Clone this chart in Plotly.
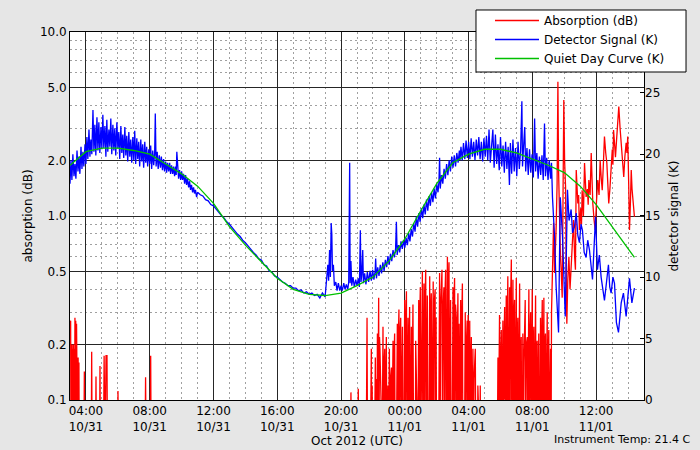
import plotly.graph_objects as go
import pandas as pd

# ---------------- data (times in hours since 2012-10-31 00:00 UTC) ----------------
absorption_hours = [
    3.00, 3.02, 3.04, 3.06, 3.08, 3.10, 3.12, 3.14, 3.16, 3.18, 3.21, 3.23, 3.26, 3.28,
    3.31, 3.33, 3.36, 3.38, 3.41, 3.43, 3.46, 3.48, 3.51, 3.53, 3.56, 3.58,
    3.87, 3.90, 3.93, 4.33, 4.36, 4.39, 4.60, 4.63, 4.66, 4.85, 4.88, 4.91,
    5.10, 5.14, 5.20, 5.26, 5.32, 5.35, 5.98, 6.01, 6.04, 7.70, 7.74, 7.78, 8.03, 8.06, 8.09,
    20.60, 20.62, 20.66, 21.05, 21.08, 21.12,
    21.58, 21.63, 21.66, 21.84, 21.86, 21.88, 21.90, 21.93, 21.95, 21.98,
    22.10, 22.15, 22.18, 22.22, 22.25, 22.28, 22.30, 22.33, 22.36, 22.38, 22.41, 22.44, 22.47,
    22.58, 22.63, 22.66, 22.69, 22.74, 22.77, 22.80, 22.84, 22.87, 22.94, 22.97, 23.03, 23.06,
    23.10, 23.16, 23.19, 23.26, 23.29, 23.32, 23.36, 23.39,
    23.47, 23.53, 23.56, 23.58, 23.63, 23.66, 23.69, 23.74, 23.77, 23.80, 23.85, 23.88,
    23.94, 23.99, 24.02, 24.05, 24.10, 24.13, 24.16, 24.20, 24.23, 24.26, 24.30, 24.33,
    24.36, 24.41, 24.44, 24.47, 24.51, 24.55, 24.66, 24.68, 24.71,
    24.82, 24.87, 24.90, 24.93, 24.97, 25.00, 25.04, 25.10, 25.13, 25.16, 25.20, 25.23,
    25.26, 25.31, 25.34, 25.37, 25.41, 25.45,
    25.52, 25.56, 25.59, 25.62, 25.66, 25.69, 25.73, 25.78, 25.81, 25.84, 25.90, 25.93, 25.96, 25.99,
    26.12, 26.18, 26.21, 26.25, 26.33, 26.36, 26.39, 26.45, 26.48, 26.51, 26.56, 26.59,
    26.62, 26.67, 26.70, 26.73, 26.77, 26.80, 26.83, 26.87, 26.90,
    26.97, 27.02, 27.05, 27.08, 27.12, 27.15, 27.18, 27.23, 27.26, 27.29, 27.33, 27.36,
    27.40, 27.44, 27.50, 27.53, 27.56, 27.61, 27.64,
    27.74, 27.79, 27.82, 27.86, 27.91, 27.94, 27.97, 28.01, 28.04, 28.07, 28.10, 28.13,
    28.17, 28.20, 28.23, 28.27, 28.30, 28.34, 28.42, 28.45,
    28.56, 28.58, 28.60, 28.71, 28.73, 28.75,
    29.80, 29.84, 29.87, 29.90, 29.94, 29.97, 30.00, 30.05, 30.08, 30.11, 30.15, 30.18,
    30.21, 30.26, 30.29, 30.32, 30.36, 30.39, 30.42, 30.46, 30.49, 30.52, 30.57, 30.60,
    30.63, 30.68, 30.71, 30.74, 30.78, 30.81, 30.84, 30.88, 30.91, 30.94, 30.99, 31.02,
    31.05, 31.09, 31.12, 31.15, 31.20, 31.23, 31.26, 31.30, 31.33,
    31.38, 31.40, 31.43, 31.47, 31.55, 31.58, 31.62, 31.68, 31.71, 31.74, 31.78, 31.81,
    31.84, 31.89, 31.92, 31.95, 31.99, 32.02, 32.05, 32.09, 32.12, 32.15, 32.20, 32.23,
    32.26, 32.30, 32.33, 32.36, 32.40, 32.44,
    32.48, 32.51, 32.54, 32.57, 32.62, 32.65, 32.68, 32.72, 32.75, 32.78, 32.82, 32.85,
    32.88, 32.93, 32.96, 32.99, 33.03, 33.06, 33.09, 33.14, 33.17, 33.20, 33.24,
    33.29, 33.33, 33.39, 33.44, 33.49, 33.55, 33.60, 33.64, 33.70, 33.76, 33.81, 33.87,
    33.92, 33.97, 34.02, 34.08, 34.12, 34.16, 34.22, 34.29, 34.36, 34.43, 34.50, 34.58,
    34.65, 34.70, 34.75, 34.80, 34.85, 34.90, 34.95, 35.03, 35.08, 35.12, 35.20, 35.27,
    35.32, 35.37, 35.45, 35.50, 35.54, 35.62, 35.69, 35.74, 35.79, 35.87, 35.94, 36.02,
    36.10, 36.18, 36.25, 36.32, 36.38, 36.45, 36.52, 36.60, 36.67, 36.73, 36.79, 36.86,
    36.94, 37.01, 37.05, 37.09, 37.15, 37.21, 37.28, 37.35, 37.42, 37.50, 37.57, 37.65,
    37.73, 37.80, 37.88, 37.93, 37.98, 38.04, 38.09, 38.15, 38.20, 38.25, 38.30, 38.35, 38.40,
]
absorption_db = [
    0.26, 0.05, 0.27, 0.05, 0.19, 0.05, 0.20, 0.05, 0.19, 0.05, 0.20, 0.05, 0.19, 0.05,
    0.28, 0.05, 0.27, 0.05, 0.26, 0.05, 0.17, 0.05, 0.17, 0.05, 0.16, 0.05,
    0.05, 0.143, 0.05, 0.05, 0.183, 0.05, 0.05, 0.134, 0.05, 0.05, 0.153, 0.05,
    0.05, 0.174, 0.05, 0.174, 0.174, 0.05, 0.05, 0.112, 0.05, 0.05, 0.133, 0.05, 0.05, 0.174, 0.05,
    0.05, 0.11, 0.05, 0.05, 0.115, 0.05,
    0.05, 0.28, 0.05, 0.05, 0.15, 0.05, 0.19, 0.05, 0.12, 0.05,
    0.05, 0.17, 0.05, 0.13, 0.05, 0.23, 0.05, 0.15, 0.36, 0.05, 0.22, 0.19, 0.05,
    0.05, 0.25, 0.05, 0.15, 0.19, 0.05, 0.12, 0.22, 0.05, 0.12, 0.05, 0.19, 0.05,
    0.13, 0.15, 0.05, 0.21, 0.05, 0.16, 0.23, 0.05,
    0.05, 0.26, 0.05, 0.19, 0.31, 0.05, 0.22, 0.28, 0.05, 0.16, 0.25, 0.05,
    0.05, 0.35, 0.05, 0.24, 0.39, 0.05, 0.22, 0.28, 0.05, 0.18, 0.32, 0.05,
    0.20, 0.25, 0.05, 0.15, 0.33, 0.05, 0.05, 0.21, 0.05,
    0.05, 0.35, 0.05, 0.25, 0.41, 0.05, 0.28, 0.50, 0.05, 0.30, 0.43, 0.05,
    0.31, 0.51, 0.05, 0.26, 0.37, 0.05,
    0.05, 0.47, 0.05, 0.30, 0.38, 0.05, 0.25, 0.44, 0.05, 0.33, 0.40, 0.05, 0.28, 0.05,
    0.05, 0.49, 0.05, 0.33, 0.51, 0.05, 0.30, 0.41, 0.05, 0.35, 0.51, 0.05,
    0.38, 0.60, 0.05, 0.42, 0.56, 0.05, 0.30, 0.35, 0.05,
    0.05, 0.41, 0.05, 0.32, 0.46, 0.05, 0.33, 0.28, 0.05, 0.20, 0.38, 0.05,
    0.26, 0.05, 0.35, 0.05, 0.25, 0.43, 0.05,
    0.05, 0.30, 0.05, 0.20, 0.27, 0.05, 0.29, 0.18, 0.05, 0.27, 0.05, 0.15,
    0.22, 0.05, 0.12, 0.19, 0.05, 0.13, 0.19, 0.05,
    0.05, 0.12, 0.05, 0.05, 0.12, 0.05,
    0.05, 0.17, 0.05, 0.12, 0.29, 0.05, 0.15, 0.24, 0.05, 0.12, 0.27, 0.05,
    0.18, 0.32, 0.05, 0.22, 0.37, 0.05, 0.25, 0.47, 0.05, 0.30, 0.41, 0.05,
    0.33, 0.58, 0.05, 0.35, 0.45, 0.05, 0.28, 0.35, 0.05, 0.25, 0.46, 0.05,
    0.22, 0.28, 0.05, 0.16, 0.43, 0.05, 0.18, 0.22, 0.05,
    0.05, 0.23, 0.05, 0.16, 0.35, 0.05, 0.20, 0.22, 0.05, 0.14, 0.40, 0.05,
    0.21, 0.30, 0.05, 0.18, 0.40, 0.05, 0.20, 0.25, 0.05, 0.17, 0.37, 0.05,
    0.19, 0.21, 0.05, 0.14, 0.23, 0.05,
    0.05, 0.28, 0.05, 0.19, 0.35, 0.05, 0.25, 0.36, 0.05, 0.20, 0.23, 0.05,
    0.15, 0.30, 0.05, 0.16, 0.24, 0.05, 0.12, 0.19, 0.05, 0.30, 0.49,
    0.70, 0.92, 0.49, 0.60, 0.87, 1.50, 5.37, 1.80, 0.84, 0.60, 0.50, 0.36,
    1.20, 4.27, 2.00, 1.44, 0.50, 0.26, 0.45, 0.60, 0.40, 0.51, 0.70, 0.95,
    0.60, 0.51, 1.78, 1.40, 1.17, 1.30, 0.84, 1.10, 0.90, 1.38, 1.00, 1.94,
    1.50, 1.27, 1.40, 1.15, 1.57, 1.30, 2.20, 1.60, 1.17, 0.95, 0.84, 1.20,
    1.57, 1.30, 2.00, 1.60, 1.38, 1.90, 2.70, 2.20, 1.94, 1.50, 1.17, 1.40,
    1.78, 2.30, 1.90, 2.93, 2.50, 2.09, 2.60, 3.20, 3.93, 3.00, 2.50, 2.00,
    1.63, 2.10, 2.50, 2.20, 2.70, 1.50, 0.84, 1.20, 1.78, 1.40, 1.27, 1.10, 0.99,
]

detector_hours = [
    3.00, 3.06, 3.12, 3.18, 3.25, 3.31, 3.37, 3.44, 3.50, 3.56, 3.62, 3.69, 3.75, 3.81, 3.87, 3.94,
    4.00, 4.06, 4.12, 4.19, 4.25, 4.31, 4.37, 4.44, 4.50, 4.56, 4.62, 4.69, 4.75, 4.81, 4.87, 4.94,
    5.00, 5.06, 5.12, 5.19, 5.25, 5.31, 5.37, 5.44, 5.50, 5.56, 5.62, 5.69, 5.75, 5.81, 5.87, 5.94,
    6.00, 6.06, 6.12, 6.19, 6.25, 6.31, 6.37, 6.44, 6.50, 6.56, 6.62, 6.69, 6.75, 6.81, 6.87, 6.94,
    7.00, 7.06, 7.12, 7.19, 7.25, 7.31, 7.37, 7.44, 7.50, 7.56, 7.62, 7.69, 7.75, 7.81, 7.87, 7.94,
    8.00, 8.06, 8.12, 8.19, 8.25, 8.31, 8.35, 8.40, 8.47, 8.53, 8.60, 8.67, 8.73, 8.80, 8.87, 8.93,
    9.00, 9.06, 9.12, 9.19, 9.25, 9.31, 9.37, 9.44, 9.50, 9.56, 9.62, 9.66, 9.70, 9.75, 9.81, 9.87, 9.94,
    10.00, 10.06, 10.12, 10.19, 10.25, 10.31, 10.37, 10.44, 10.50, 10.56, 10.62, 10.69, 10.75, 10.81, 10.87, 10.94,
    11.00, 11.17, 11.33, 11.50, 11.67, 11.83, 12.00, 12.17, 12.33, 12.50, 12.67, 12.83,
    13.00, 13.17, 13.33, 13.50, 13.67, 13.83, 14.00, 14.17, 14.33, 14.50, 14.67, 14.83,
    15.00, 15.17, 15.33, 15.50, 15.67, 15.83, 16.00, 16.17, 16.33, 16.50, 16.67, 16.83,
    17.00, 17.17, 17.33, 17.50, 17.67, 17.83, 18.00, 18.17, 18.33, 18.50, 18.67, 18.83,
    19.00, 19.08, 19.17, 19.22, 19.28, 19.33, 19.38, 19.42, 19.46, 19.52, 19.58, 19.67,
    19.75, 19.83, 19.92, 20.00, 20.08, 20.17, 20.25, 20.33, 20.42, 20.48, 20.54, 20.57,
    20.62, 20.67, 20.75, 20.83, 20.92, 21.00, 21.08, 21.15, 21.21, 21.25, 21.30, 21.36,
    21.40, 21.48, 21.56, 21.65, 21.73, 21.82, 21.90, 21.98, 22.06, 22.14, 22.17, 22.22,
    22.30, 22.38, 22.46, 22.54, 22.62, 22.70, 22.78, 22.86, 22.94, 23.02, 23.10, 23.18,
    23.26, 23.34, 23.42, 23.47, 23.52, 23.60, 23.68, 23.76, 23.84, 23.92,
    24.00, 24.08, 24.16, 24.24, 24.32, 24.40, 24.48, 24.56, 24.64, 24.72, 24.80, 24.88,
    24.96, 25.04, 25.12, 25.20, 25.28, 25.36, 25.44, 25.52, 25.60, 25.68, 25.76, 25.84,
    25.92, 26.00, 26.08, 26.14, 26.18, 26.22, 26.30, 26.38, 26.46, 26.54, 26.62, 26.70,
    26.78, 26.86, 26.94, 27.02, 27.10, 27.18, 27.26, 27.34, 27.42, 27.46, 27.52, 27.60,
    27.68, 27.76, 27.84, 27.92, 28.00, 28.08, 28.16, 28.24, 28.32, 28.40, 28.48, 28.56,
    28.64, 28.72, 28.80, 28.88, 28.96, 29.04, 29.12, 29.20, 29.28, 29.36, 29.44, 29.52,
    29.60, 29.68, 29.76, 29.84, 29.92, 30.00, 30.08, 30.16, 30.24, 30.32, 30.40, 30.48,
    30.56, 30.62, 30.70, 30.78, 30.86, 30.94, 31.02, 31.10, 31.18, 31.26, 31.34, 31.38,
    31.46, 31.52, 31.58, 31.66, 31.74, 31.82, 31.90, 31.98, 32.06, 32.14, 32.20, 32.28,
    32.36, 32.44, 32.52, 32.60, 32.68, 32.76, 32.82, 32.90, 32.98, 33.06, 33.14, 33.20,
    33.26, 33.39, 33.49, 33.64, 33.75, 33.89, 34.06, 34.20, 34.30, 34.43, 34.52, 34.64,
    34.75, 34.85, 34.95, 35.05, 35.14, 35.25, 35.37, 35.47, 35.58, 35.68, 35.77, 35.96,
    36.08, 36.20, 36.31, 36.42, 36.52, 36.65, 36.77, 36.85, 36.94, 37.05, 37.15, 37.27,
    37.40, 37.57, 37.71, 37.88, 37.98, 38.09, 38.24, 38.40,
]
detector_k = [
    17.6, 19.5, 17.9, 20.0, 18.2, 19.2, 18.0, 20.3, 18.6, 19.8, 18.4, 20.6, 18.8, 20.2, 19.0, 20.8,
    19.2, 21.4, 19.6, 22.0, 19.8, 21.2, 20.0, 23.6, 20.2, 22.4, 19.9, 23.0, 20.3, 22.6, 20.1, 22.2,
    20.4, 23.2, 20.5, 22.3, 19.8, 22.8, 20.2, 22.0, 20.6, 22.9, 20.0, 22.4, 20.3, 22.1, 19.9, 22.6,
    20.5, 21.8, 19.6, 22.3, 20.1, 21.6, 19.7, 22.2, 19.9, 21.5, 19.4, 21.8, 19.8, 21.2, 19.3, 21.4,
    19.5, 21.9, 19.2, 21.3, 19.6, 21.0, 19.0, 21.2, 19.4, 20.8, 18.9, 21.0, 19.3, 20.6, 19.0, 20.4,
    19.2, 20.7, 18.8, 20.3, 19.1, 20.1, 23.3, 19.0, 20.2, 18.8, 19.9, 18.9, 19.8, 18.7, 19.6, 18.6,
    19.4, 18.5, 19.3, 18.6, 19.3, 18.4, 19.1, 18.4, 19.0, 18.2, 19.0, 18.3, 20.2, 18.5, 18.0, 18.7, 17.9,
    18.6, 17.9, 18.4, 17.6, 18.3, 17.5, 18.0, 17.3, 17.8, 17.1, 17.5, 16.9, 17.3, 16.8, 17.1, 16.5,
    16.9, 16.7, 16.6, 16.3, 16.2, 15.9, 15.8, 15.5, 15.3, 15.0, 14.8, 14.5,
    14.3, 14.0, 13.8, 13.5, 13.3, 13.0, 12.8, 12.5, 12.3, 12.0, 11.8, 11.5,
    11.4, 11.0, 10.9, 10.5, 10.4, 10.1, 10.0, 9.8, 9.6, 9.5, 9.3, 9.3,
    9.1, 9.1, 8.9, 8.95, 8.7, 8.8, 8.6, 8.7, 8.5, 8.6, 8.3, 8.7,
    8.4, 9.6, 11.0, 9.7, 12.2, 10.0, 14.4, 13.5, 10.5, 11.0, 9.3, 9.6,
    8.9, 9.5, 8.9, 9.3, 8.9, 9.5, 9.0, 9.4, 9.0, 9.6, 19.3, 9.5,
    11.3, 9.3, 10.0, 9.2, 9.8, 9.3, 9.9, 9.2, 13.8, 9.6, 10.2, 12.2,
    9.5, 10.3, 9.4, 10.4, 9.6, 10.5, 9.7, 10.6, 9.8, 10.5, 11.5, 9.9,
    10.8, 10.1, 11.0, 10.3, 11.2, 10.5, 11.4, 10.8, 11.7, 11.0, 11.9, 11.3,
    12.2, 11.6, 12.3, 14.5, 11.8, 12.6, 12.0, 12.9, 12.3, 13.0,
    12.4, 13.2, 12.6, 13.6, 12.9, 13.9, 13.3, 14.4, 13.7, 14.9, 14.1, 15.2,
    14.5, 15.6, 14.8, 15.9, 15.1, 16.3, 15.4, 16.6, 15.8, 16.9, 16.1, 17.2,
    16.4, 17.6, 16.9, 17.8, 19.7, 17.2, 18.3, 17.6, 18.8, 18.0, 19.2, 18.3,
    19.5, 18.6, 19.8, 18.9, 19.9, 19.0, 20.1, 19.3, 20.3, 19.5, 20.6, 19.5,
    20.9, 19.6, 21.1, 19.7, 21.0, 19.6, 21.3, 19.8, 21.0, 19.5, 21.2, 19.9,
    21.4, 19.6, 21.0, 19.4, 21.3, 19.8, 21.5, 19.5, 22.0, 19.3, 21.2, 22.0,
    18.9, 21.6, 19.2, 20.8, 18.7, 21.4, 19.0, 20.7, 18.5, 21.0, 18.8, 20.6,
    17.5, 20.9, 18.4, 21.2, 18.6, 20.5, 18.2, 21.0, 18.8, 20.3, 24.3, 19.0,
    20.9, 22.2, 18.6, 20.5, 18.3, 20.4, 18.5, 20.0, 18.1, 22.9, 18.6, 20.1,
    18.0, 19.8, 18.3, 19.9, 17.9, 22.5, 18.2, 19.7, 17.9, 19.5, 18.0, 19.3,
    16.5, 13.3, 9.2, 5.5, 16.5, 13.3, 6.8, 17.1, 14.6, 15.5, 13.6, 14.1,
    15.2, 13.4, 12.8, 14.3, 13.8, 12.0, 11.6, 13.0, 12.2, 10.8, 9.8, 14.9,
    10.6, 11.8, 10.0, 9.0, 8.1, 9.6, 11.0, 9.2, 8.7, 10.0, 9.5, 6.3,
    5.5, 7.9, 8.7, 6.8, 8.5, 9.9, 7.9, 9.1,
]

quiet_hours = [3, 4, 5, 6, 7, 8, 9, 10, 11, 12, 13, 14, 15, 16, 17, 18, 19, 20,
               21, 22, 23, 24, 25, 26, 27, 28, 29, 30, 31, 32, 33, 34, 35, 36, 37, 38, 38.4]
quiet_k = [19.1, 20.2, 20.5, 20.5, 20.3, 20.0, 19.2, 18.4, 17.4, 16.0, 14.1, 12.6, 11.25,
           9.9, 9.0, 8.6, 8.5, 8.7, 9.3, 10.0, 11.3, 13.1, 15.4, 17.6, 19.3, 20.0, 20.4,
           20.4, 20.1, 19.6, 19.1, 18.5, 17.4, 15.9, 14.1, 12.3, 11.6]

x_tick_hours = [4, 8, 12, 16, 20, 24, 28, 32, 36]
x_tick_labels = ["04:00<br>10/31", "08:00<br>10/31", "12:00<br>10/31", "16:00<br>10/31",
                 "20:00<br>10/31", "00:00<br>11/01", "04:00<br>11/01", "08:00<br>11/01",
                 "12:00<br>11/01"]
y_tick_vals = [0.1, 0.2, 0.5, 1.0, 2.0, 5.0, 10.0]
y_tick_labels = ["0.1", "0.2", "0.5", "1.0", "2.0", "5.0", "10.0"]
y_minor_vals = [0.3, 0.4, 0.6, 0.7, 0.8, 0.9, 3, 4, 6, 7, 8, 9]
y2_tick_vals = [0, 5, 10, 15, 20, 25]
instrument_temp = "Instrument Temp: 21.4 C"

BASE = pd.Timestamp("2012-10-31 00:00")


def to_time(hours):
    return [BASE + pd.Timedelta(hours=h) for h in hours]


FONT = "DejaVu Sans"
LW = 1.3
fig = go.Figure()
fig.add_trace(go.Scatter(x=to_time(absorption_hours), y=absorption_db, mode="lines",
                         name="Absorption (dB)", line=dict(color="#ff0000", width=LW),
                         yaxis="y"))
fig.add_trace(go.Scatter(x=to_time(detector_hours), y=detector_k, mode="lines",
                         name="Detector Signal (K)", line=dict(color="#0000ff", width=LW),
                         yaxis="y2"))
fig.add_trace(go.Scatter(x=to_time(quiet_hours), y=quiet_k, mode="lines",
                         name="Quiet Day Curve (K)", line=dict(color="#00c000", width=LW),
                         yaxis="y2"))

grid_major = "#262626"
grid_minor = "#a0a0a0"

fig.update_layout(
    width=700, height=450,
    margin=dict(l=70, r=56, t=32, b=50, autoexpand=False),
    paper_bgcolor="#e6e6e6", plot_bgcolor="#ffffff",
    font=dict(family=FONT, size=12, color="#000000"),
    showlegend=True,
    legend=dict(x=0.7317, xanchor="left", y=1.0707, yanchor="top",
                bgcolor="rgba(0,0,0,0)", borderwidth=0, itemwidth=44,
                font=dict(size=12), tracegroupgap=0),
    shapes=[dict(type="rect", xref="paper", yref="paper",
                 x0=0.7073, x1=1.0732, y0=0.8913, y1=1.0598,
                 fillcolor="#ffffff", line=dict(color="#000000", width=1),
                 layer="above")],
    xaxis=dict(
        type="date",
        range=[BASE + pd.Timedelta(hours=3), BASE + pd.Timedelta(hours=39)],
        tickmode="array", tickvals=to_time(x_tick_hours), ticktext=x_tick_labels,
        showgrid=True, gridcolor=grid_major, gridwidth=1,
        minor=dict(dtick=3600000, tick0=BASE, showgrid=True, gridcolor=grid_minor,
                   griddash="2px,3px", gridwidth=1),
        showline=True, mirror=True, linecolor="#000000", linewidth=1,
        ticks="", zeroline=False,
        title=dict(text="Oct 2012 (UTC)", standoff=3, font=dict(size=12)),
    ),
    yaxis=dict(
        type="log", range=[-1, 1],
        tickmode="array", tickvals=y_tick_vals, ticktext=y_tick_labels,
        showgrid=True, gridcolor=grid_major, gridwidth=1,
        minor=dict(tickmode="array", tickvals=y_minor_vals, showgrid=True,
                   gridcolor=grid_minor, griddash="2px,3px", gridwidth=1),
        showline=True, mirror=True, linecolor="#000000", linewidth=1,
        ticks="", zeroline=False,
        title=dict(text="absorption (dB)", standoff=4, font=dict(size=12)),
    ),
    yaxis2=dict(
        overlaying="y", side="right", range=[0, 29.94],
        tickmode="array", tickvals=y2_tick_vals,
        showgrid=False, zeroline=False,
        ticks="inside", ticklen=4, tickcolor="#000000",
        showline=False,
        title=dict(text="detector signal (K)", standoff=10, font=dict(size=12)),
    ),
    annotations=[dict(text=instrument_temp, xref="paper", yref="paper",
                      x=1.0854, y=-0.106, xanchor="right", yanchor="middle",
                      showarrow=False, font=dict(size=11))],
)

fig.write_html("out.html", config={"displayModeBar": False},
               post_script="document.body.style.margin='0px';")
